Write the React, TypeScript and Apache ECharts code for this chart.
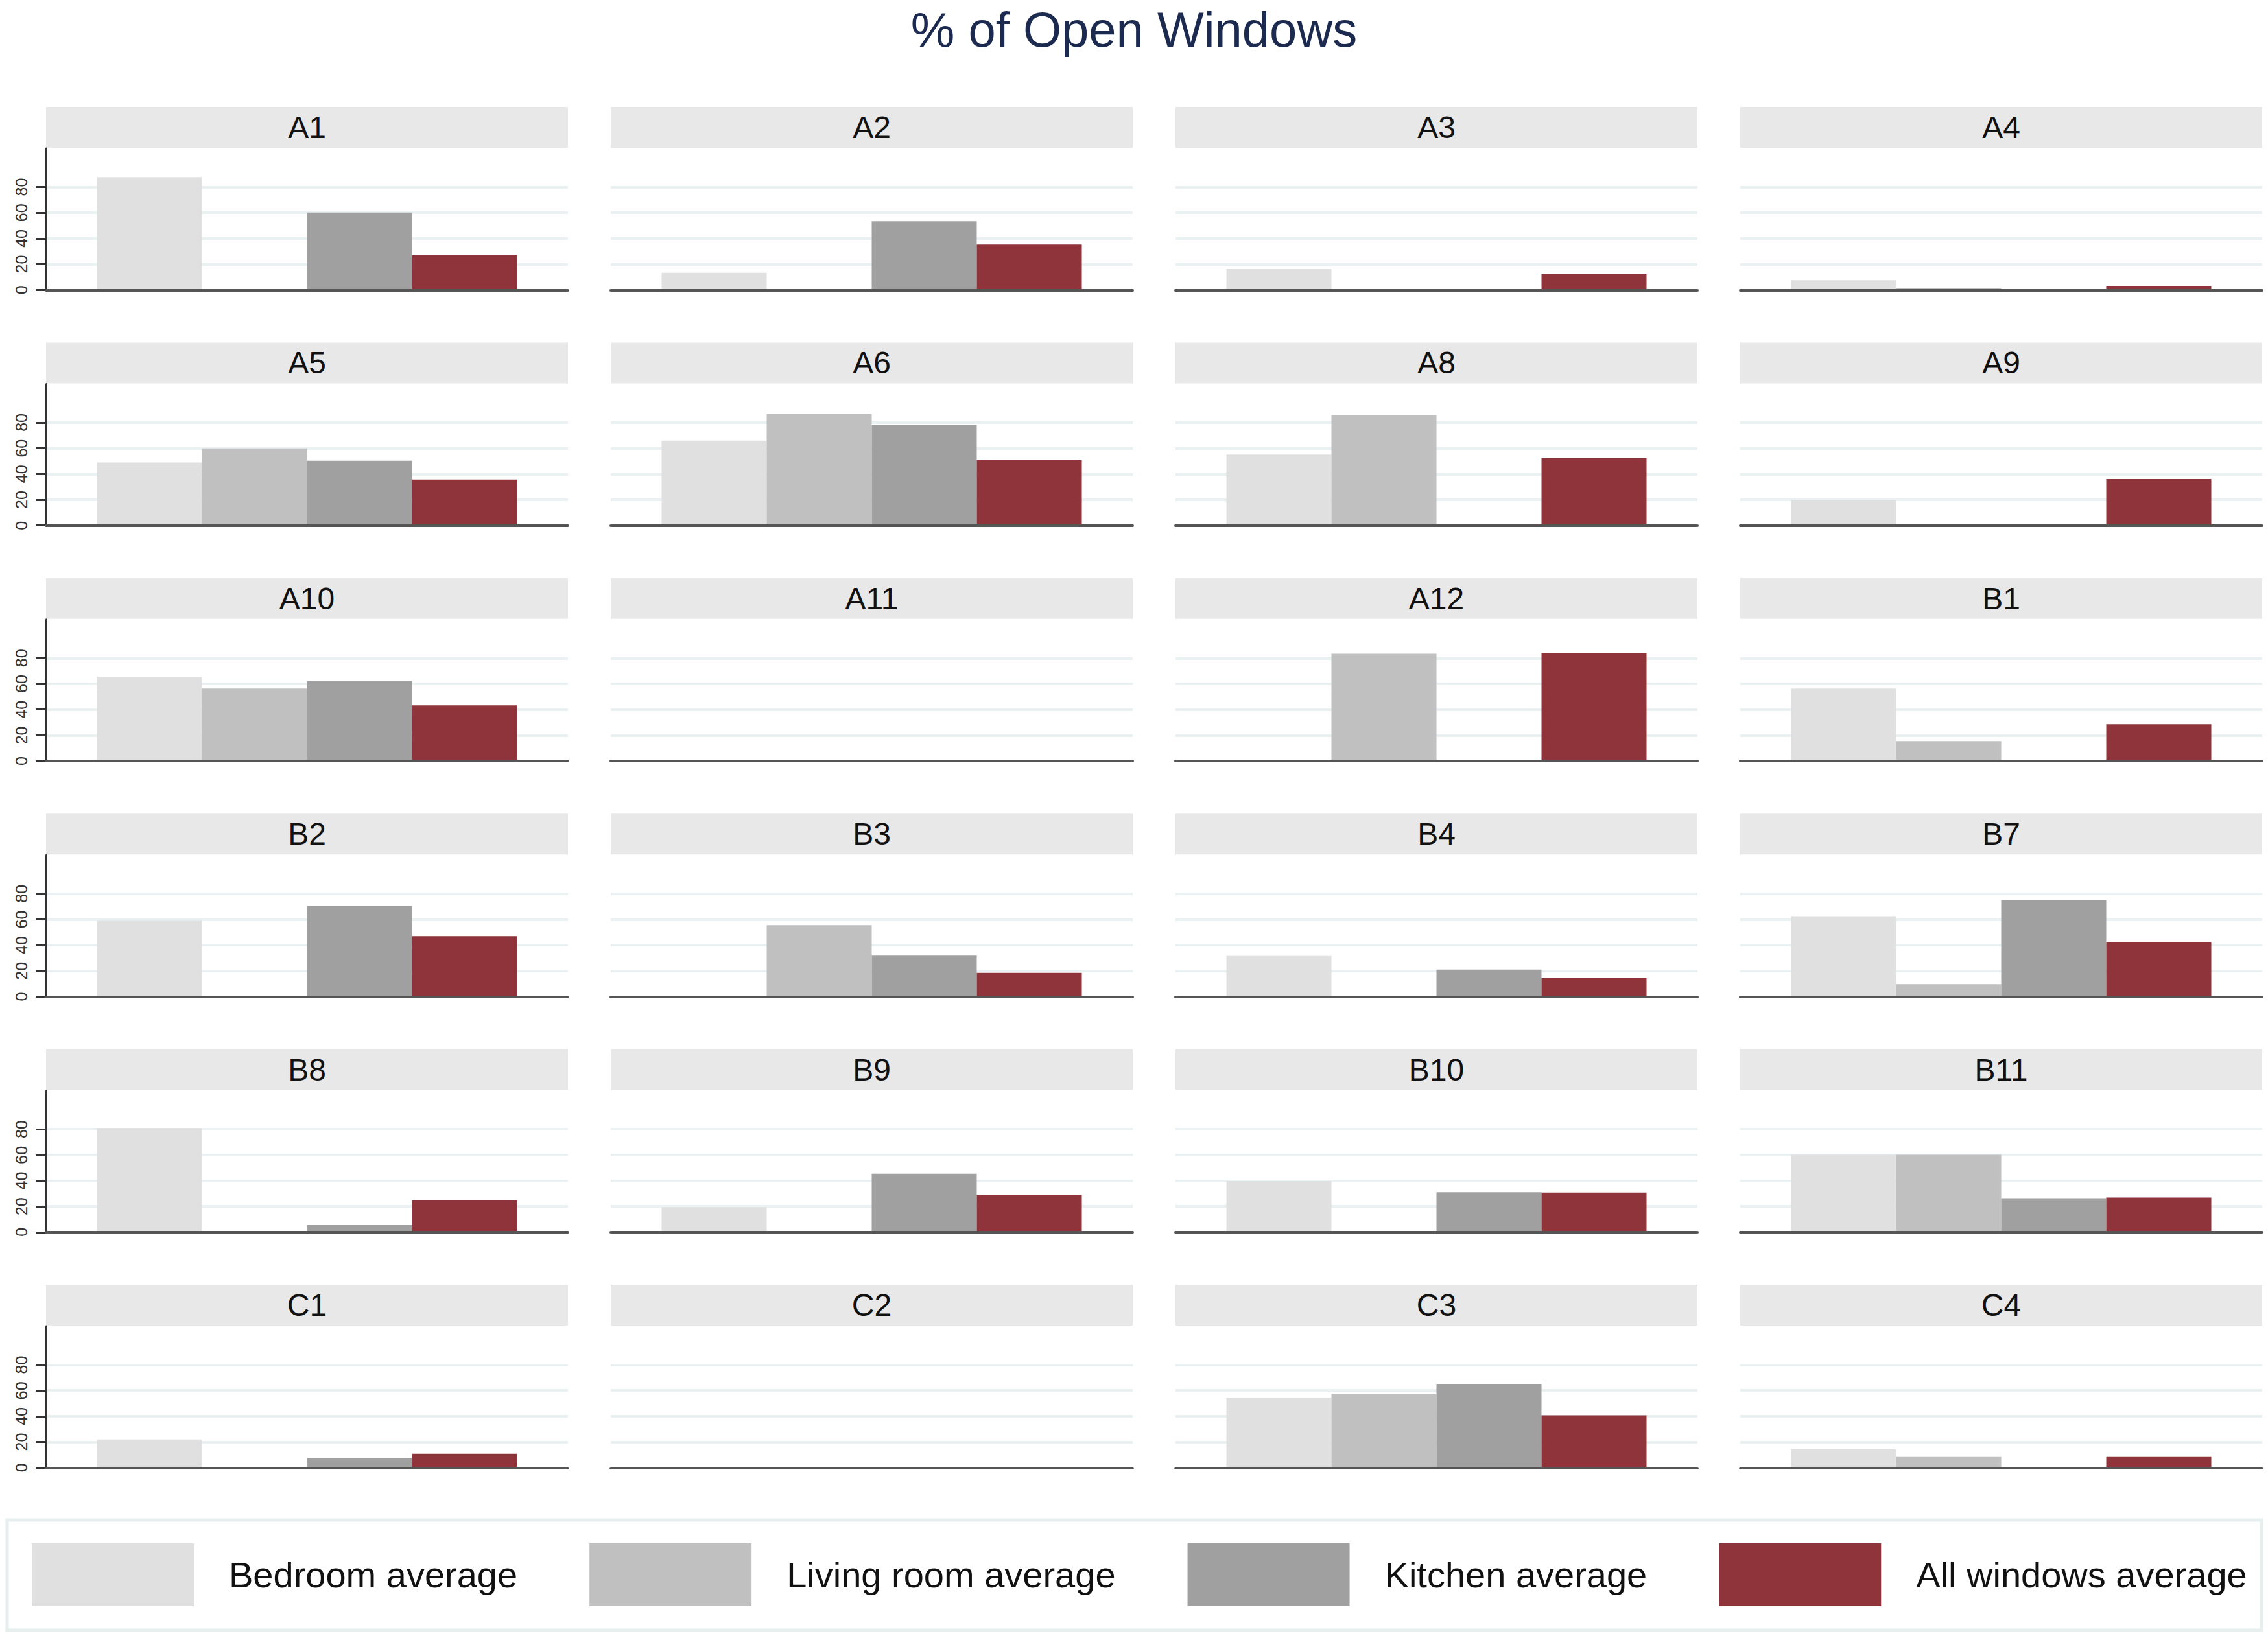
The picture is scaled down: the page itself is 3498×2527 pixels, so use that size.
import React, { useEffect, useRef } from "react";
import * as echarts from "echarts";

const FONT = '"Liberation Sans", Arial, Helvetica, sans-serif';

const chartTitle = "% of Open Windows";
const panels = ["A1", "A2", "A3", "A4", "A5", "A6", "A8", "A9", "A10", "A11", "A12", "B1", "B2", "B3", "B4", "B7", "B8", "B9", "B10", "B11", "C1", "C2", "C3", "C4"];
const seriesNames = ["Bedroom average", "Living room average", "Kitchen average", "All windows average"];
const seriesColors = ["#e0e0e0", "#c0c0c0", "#a0a0a0", "#8f343a"];

const bedroom = [87.7, 13.4, 16.3, 7.6, 49, 66, 55.1, 19.8, 65.5, null, null, 56.3, 58.8, null, 31.6, 62.5, 81, 19.3, 39.8, 60.2, 21.9, null, 54.5, 14.3];
const livingRoom = [null, null, null, 1.5, 60, 86.6, 86, null, 56.3, null, 83.5, 15.5, null, 55.5, null, 9.7, null, null, null, 60.2, null, null, 57.6, 8.8];
const kitchen = [60.2, 53.4, null, null, 50.4, 78.2, null, null, 62.2, null, null, null, 70.6, 31.9, 21, 75.1, 5.5, 45.4, 31.1, 26.4, 7.6, null, 65.2, null];
const allWindows = [26.9, 35.3, 12.3, 3.2, 35.8, 50.8, 52.4, 36.1, 43.2, null, 83.7, 28.6, 47, 18.5, 14.3, 42.4, 24.7, 29.1, 30.8, 26.9, 10.9, null, 40.7, 8.8];

const yTicks = [0, 20, 40, 60, 80];
const yMax = 110;

export default function App() {
  const ref = useRef<HTMLDivElement>(null);
  useEffect(() => {
    if (!ref.current) return;
    const chart = echarts.init(ref.current, null, { renderer: "svg" });
    const values = [bedroom, livingRoom, kitchen, allWindows];
    const cols = 4;
    const colLeft0 = 71;
    const colStep = 871;
    const panelW = 805;
    const rowStep = 363.4;
    const stripTop0 = 165;
    const stripH = 63;
    const gridTop0 = 229;
    const gridH = 218.3;
    const gridColor = "#e9f1f2";

    const grids: any[] = [];
    const xAxes: any[] = [];
    const yAxes: any[] = [];
    const series: any[] = [];
    const graphics: any[] = [];

    panels.forEach((p, i) => {
      const r = Math.floor(i / cols);
      const c = i % cols;
      const left = colLeft0 + colStep * c;
      const top = gridTop0 + rowStep * r;
      grids.push({ left, top, width: panelW, height: gridH, containLabel: false });
      xAxes.push({
        gridIndex: i,
        type: "category",
        data: [""],
        z: 5,
        axisLine: { show: true, lineStyle: { color: "#555555", width: 4 } },
        axisTick: { show: false },
        axisLabel: { show: false },
        splitLine: { show: false },
      });
      yAxes.push({
        gridIndex: i,
        type: "value",
        min: 0,
        max: yMax,
        interval: 20,
        axisLine: { show: c === 0, lineStyle: { color: "#333333", width: 3 } },
        axisTick: { show: c === 0, length: 16, inside: false, customValues: yTicks, lineStyle: { color: "#333333", width: 3 } },
        axisLabel: {
          show: c === 0,
          customValues: yTicks,
          rotate: 90,
          fontSize: 25,
          color: "#333333",
          margin: 26,
          fontFamily: FONT,
          formatter: (v: number) => (v <= 80 ? String(v) : ""),
        },
        splitLine: {
          show: true,
          showMinLine: true,
          showMaxLine: true,
          lineStyle: { color: [gridColor, gridColor, gridColor, gridColor, gridColor, "rgba(0,0,0,0)", "rgba(0,0,0,0)"], width: 4 },
        },
      });
      values.forEach((arr, k) => {
        const v = arr[i];
        series.push({
          type: "bar",
          name: seriesNames[k],
          xAxisIndex: i,
          yAxisIndex: i,
          data: [v === null ? "-" : v],
          barGap: "0%",
          barCategoryGap: "19.5%",
          itemStyle: { color: seriesColors[k] },
          silent: true,
        });
      });
      const stripTop = stripTop0 + rowStep * r;
      graphics.push({
        type: "rect",
        shape: { x: left, y: stripTop, width: panelW, height: stripH },
        style: { fill: "#e8e8e8" },
        silent: true,
      });
      graphics.push({
        type: "text",
        x: left + panelW / 2,
        y: stripTop + stripH / 2,
        style: { text: p, fontSize: 48, fill: "#111111", fontFamily: FONT, align: "center", verticalAlign: "middle" },
        silent: true,
      });
    });

    graphics.push({
      type: "text",
      x: 1749,
      y: 45,
      style: { text: chartTitle, fontSize: 76, fill: "#1b2a4e", fontFamily: FONT, align: "center", verticalAlign: "middle" },
      silent: true,
    });
    graphics.push({
      type: "rect",
      shape: { x: 11, y: 2345, width: 3477, height: 170 },
      style: { fill: "none", stroke: "#e6eeee", lineWidth: 5 },
      silent: true,
    });

    chart.setOption({
      animation: false,
      backgroundColor: "#ffffff",
      grid: grids,
      xAxis: xAxes,
      yAxis: yAxes,
      series,
      legend: {
        data: seriesNames,
        left: 49,
        top: 2381,
        padding: 0,
        itemWidth: 250,
        itemHeight: 97,
        itemGap: 111,
        icon: "rect",
        selectedMode: false,
        textStyle: { fontSize: 56, color: "#111111", fontFamily: FONT, padding: [0, 0, 0, 49] },
      },
      graphic: graphics,
    });
    return () => chart.dispose();
  }, []);
  return <div ref={ref} style={{ position: "fixed", left: 0, top: 0, width: 3498, height: 2527, background: "#fff" }} />;
}
